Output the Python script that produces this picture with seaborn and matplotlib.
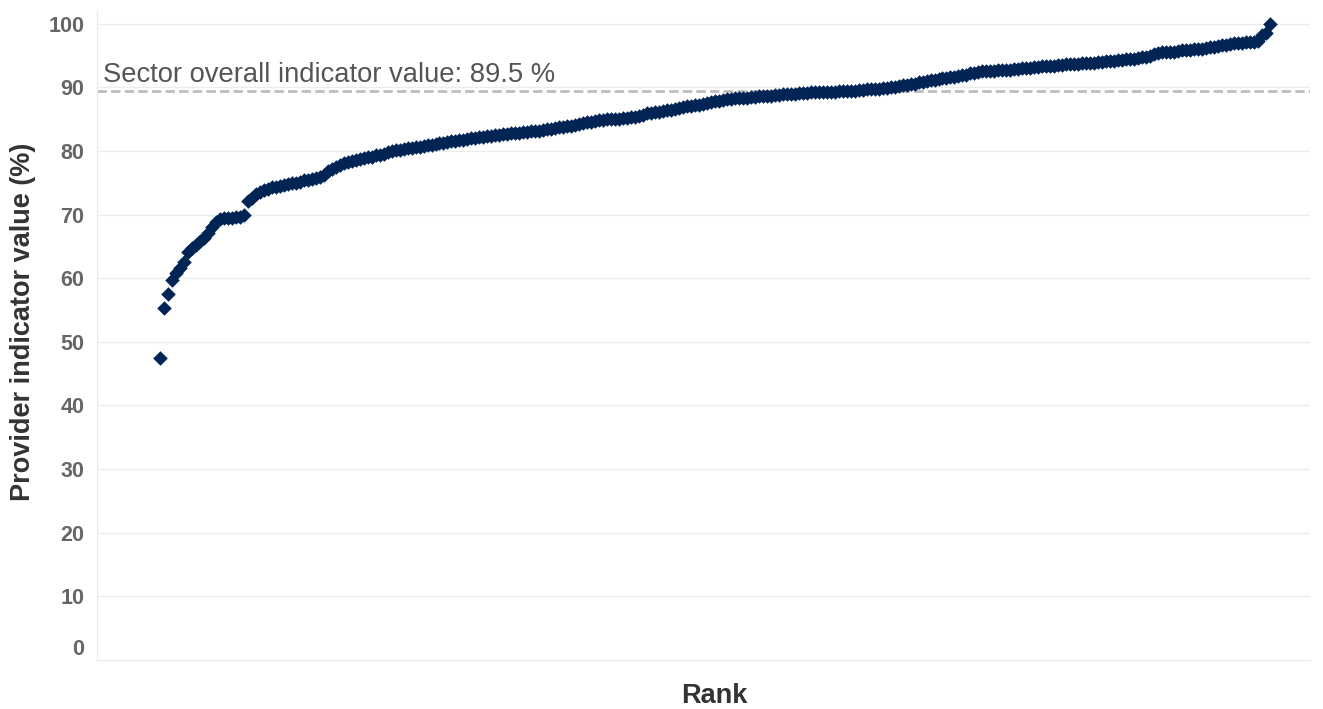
import matplotlib
matplotlib.use("Agg")
import matplotlib.pyplot as plt
import matplotlib.transforms as mtransforms
import seaborn as sns
import pandas as pd

# Provider indicator values (%) sorted by rank
values = [
    47.5, 55.4, 57.5, 59.8, 60.8, 61.6, 62.6, 64.1, 64.8, 65.3,
    65.8, 66.4, 67.1, 68.0, 68.9, 69.3, 69.4, 69.5, 69.5, 69.6,
    69.7, 69.9, 72.1, 72.6, 73.2, 73.6, 73.9, 74.1, 74.3, 74.4,
    74.5, 74.7, 74.8, 74.9, 75.0, 75.2, 75.4, 75.5, 75.6, 75.7,
    75.9, 76.3, 76.8, 77.2, 77.5, 77.8, 78.1, 78.3, 78.5, 78.6,
    78.8, 78.9, 79.0, 79.1, 79.3, 79.4, 79.6, 79.8, 80.0, 80.1,
    80.2, 80.3, 80.4, 80.5, 80.6, 80.7, 80.8, 80.9, 81.0, 81.1,
    81.2, 81.3, 81.4, 81.5, 81.6, 81.7, 81.8, 81.9, 82.0, 82.1,
    82.2, 82.2, 82.3, 82.4, 82.5, 82.5, 82.6, 82.7, 82.8, 82.8,
    82.9, 83.0, 83.0, 83.1, 83.1, 83.2, 83.3, 83.4, 83.5, 83.6,
    83.7, 83.8, 83.9, 84.0, 84.1, 84.2, 84.4, 84.5, 84.6, 84.7,
    84.8, 84.9, 85.0, 85.0, 85.1, 85.1, 85.2, 85.2, 85.3, 85.4,
    85.5, 85.7, 85.9, 86.0, 86.1, 86.2, 86.3, 86.4, 86.5, 86.6,
    86.8, 86.9, 87.0, 87.1, 87.2, 87.3, 87.4, 87.6, 87.7, 87.8,
    87.9, 88.0, 88.1, 88.2, 88.3, 88.3, 88.4, 88.4, 88.5, 88.5,
    88.6, 88.6, 88.7, 88.7, 88.8, 88.8, 88.9, 88.9, 89.0, 89.0,
    89.1, 89.1, 89.1, 89.2, 89.2, 89.2, 89.3, 89.3, 89.3, 89.3,
    89.4, 89.4, 89.4, 89.5, 89.5, 89.6, 89.6, 89.7, 89.7, 89.8,
    89.8, 89.9, 89.9, 90.0, 90.1, 90.2, 90.3, 90.4, 90.5, 90.6,
    90.8, 90.9, 91.0, 91.1, 91.2, 91.3, 91.4, 91.5, 91.6, 91.7,
    91.8, 91.9, 92.0, 92.2, 92.3, 92.4, 92.5, 92.5, 92.6, 92.6,
    92.7, 92.7, 92.8, 92.8, 92.9, 92.9, 93.0, 93.0, 93.1, 93.2,
    93.2, 93.3, 93.3, 93.4, 93.4, 93.5, 93.5, 93.6, 93.6, 93.7,
    93.7, 93.8, 93.8, 93.9, 93.9, 94.0, 94.0, 94.1, 94.1, 94.2,
    94.3, 94.3, 94.4, 94.4, 94.5, 94.6, 94.7, 94.8, 94.9, 95.2,
    95.4, 95.5, 95.5, 95.6, 95.6, 95.7, 95.8, 95.9, 95.9, 96.0,
    96.1, 96.1, 96.2, 96.3, 96.4, 96.5, 96.6, 96.7, 96.8, 96.9,
    97.0, 97.0, 97.1, 97.1, 97.2, 97.3, 98.2, 98.6, 100.0,
]
ranks = list(range(1, len(values) + 1))
sector_value = 89.5
sector_label = "Sector overall indicator value: 89.5 %"
y_ticks = [0, 10, 20, 30, 40, 50, 60, 70, 80, 90, 100]

df = pd.DataFrame({"Rank": ranks, "Value": values})

sns.set_style("white")
plt.rcParams["font.family"] = ["Liberation Sans", "DejaVu Sans"]

fig = plt.figure(figsize=(13.23, 7.09), dpi=100)
ax = fig.add_axes([0.0733, 0.0691, 0.9167, 0.9154])

sns.scatterplot(data=df, x="Rank", y="Value", marker="D", s=55,
                color="#002554", linewidth=0, ax=ax, zorder=3)

ax.axhline(sector_value, color="#bdbdbd", linestyle=(0, (3.4, 1.5)), linewidth=2, zorder=2)
ax.text(-13.3, sector_value + 1.35, sector_label, fontsize=19.7, color="#555555",
        ha="left", va="baseline")

ax.set_xlim(-14.8, 289)
ax.set_ylim(0, 102)
ax.set_yticks(y_ticks)
ax.set_yticklabels([str(t) for t in y_ticks])
ax.set_xticks([])
ax.yaxis.grid(True, color="#ececec", linewidth=1)
ax.xaxis.grid(False)
for side in ["top", "right"]:
    ax.spines[side].set_visible(False)
ax.spines["left"].set_color("#ececec")
ax.spines["bottom"].set_color("#ececec")
ax.spines["left"].set_linewidth(1)
ax.spines["bottom"].set_linewidth(1)

ax.tick_params(axis="y", length=6, width=1, color="#ececec", pad=3,
               labelsize=15.5, labelcolor="#666666")
for lab in ax.get_yticklabels():
    lab.set_fontweight("bold")
labs = ax.get_yticklabels()
offset = mtransforms.ScaledTranslation(0, 13 / 100, fig.dpi_scale_trans)
labs[0].set_transform(labs[0].get_transform() + offset)

ax.set_ylabel("Provider indicator value (%)", fontsize=19.5, fontweight="bold", color="#333333")
ax.yaxis.set_label_coords(-0.050, 0.521)
ax.set_xlabel("Rank", fontsize=19.5, fontweight="bold", color="#333333")
ax.xaxis.set_label_coords(0.509, -0.035)

fig.savefig("out.png", dpi=100, facecolor="white")
